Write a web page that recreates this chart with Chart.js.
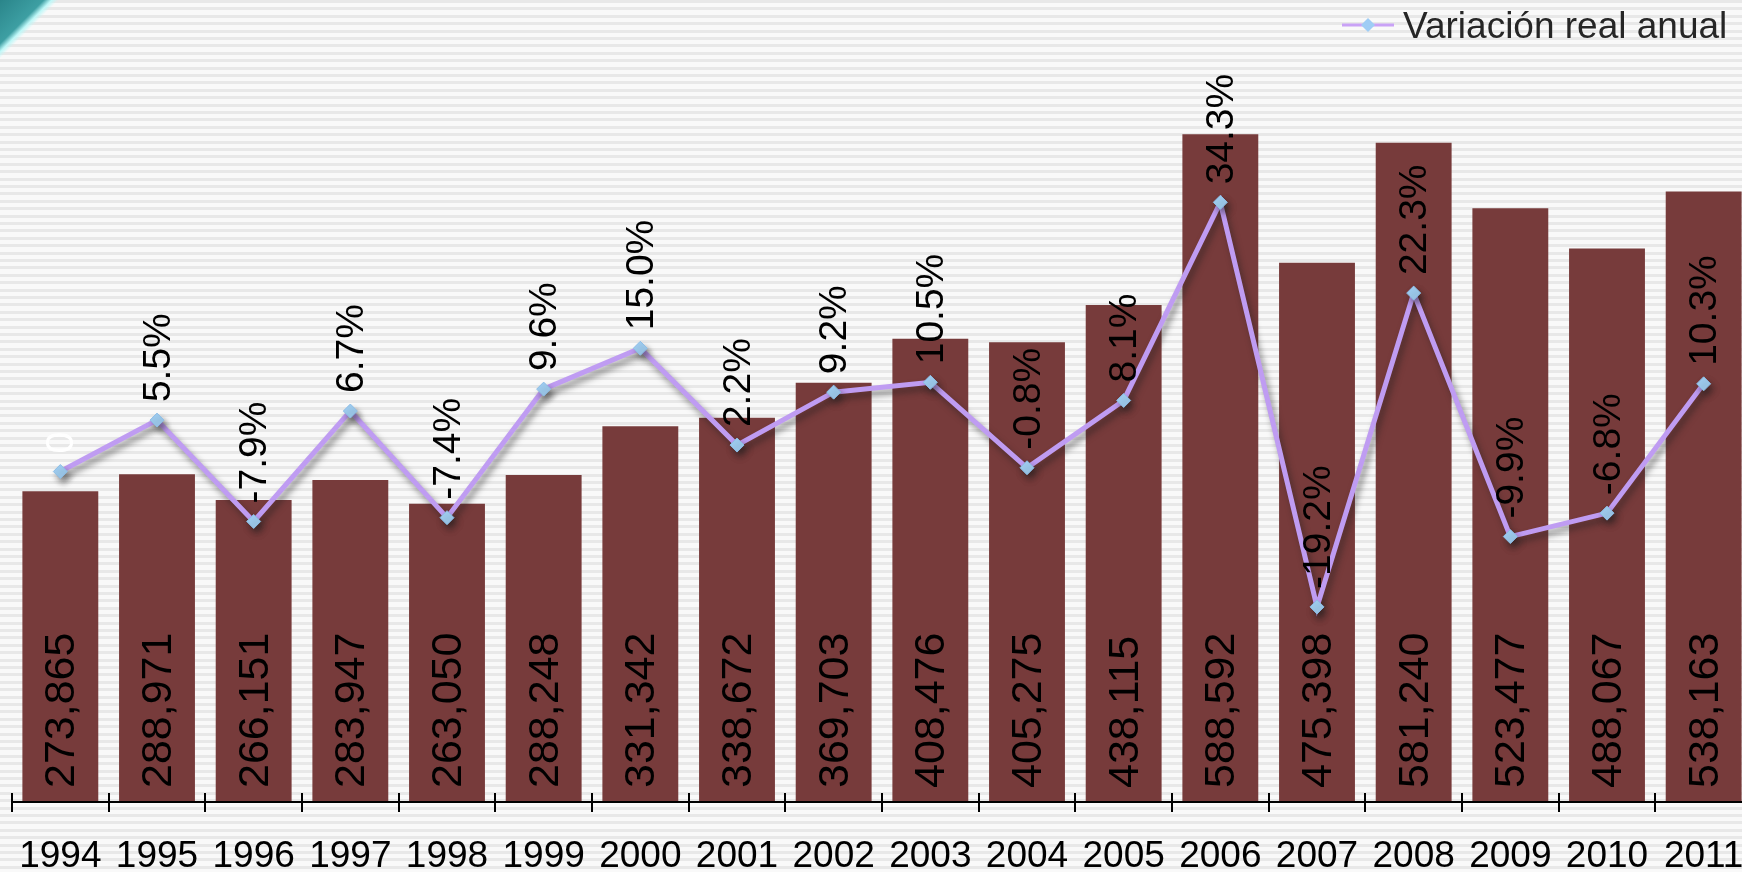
<!DOCTYPE html>
<html lang="es">
<head>
<meta charset="utf-8">
<title>Variación real anual</title>
<script src="https://cdn.jsdelivr.net/npm/chart.js@4.4.1/dist/chart.umd.min.js"></script>
<style>
    html, body { margin: 0; padding: 0; overflow: hidden; }
    body {
        position: relative;
        width: 1742px;
        height: 872px;
        background: repeating-linear-gradient(to bottom, #e8e8e8 0px, #e8e8e8 3px, #f9f9f9 3px, #f9f9f9 7.4px);
    }
    .corner {
        position: absolute; left: 0; top: 0; width: 115px; height: 115px;
        background: linear-gradient(135deg, #2a858a 0%, #3d9fa3 19%, #bff8f8 22.5%, rgba(255,255,255,0) 25.5%);
    }
    .wrap { position: absolute; left: 0; top: 0; width: 1760px; height: 872px; }
</style>
</head>
<body>
<div class="corner"></div>
<div class="wrap"><canvas id="chart" width="1760" height="872"></canvas></div>
<script>
const years = ['1994', '1995', '1996', '1997', '1998', '1999', '2000', '2001', '2002',
    '2003', '2004', '2005', '2006', '2007', '2008', '2009', '2010', '2011'];
const totals = [273865, 288971, 266151, 283947, 263050, 288248, 331342, 338672, 369703,
    408476, 405275, 438115, 588592, 475398, 581240, 523477, 488067, 538163];
// where the points sit on the picture (%)
const variation = [-1.3, 5.5, -7.9, 6.7, -7.4, 9.6, 15.0, 2.2, 9.2,
    10.5, -0.8, 8.1, 34.3, -19.2, 22.3, -9.9, -6.8, 10.3];
const variationLabels = ['0', '5.5%', '-7.9%', '6.7%', '-7.4%', '9.6%', '15.0%', '2.2%', '9.2%',
    '10.5%', '-0.8%', '8.1%', '34.3%', '-19.2%', '22.3%', '-9.9%', '-6.8%', '10.3%'];

const FONT = "'Liberation Sans', Arial, sans-serif";
const ctx = document.getElementById('chart').getContext('2d');

const fmt = (n) => n.toLocaleString('en-US');

// Rotated text helper
const vText = (c, text, x, y, size, color) => {
    c.save();
    c.translate(x, y);
    c.rotate(-Math.PI / 2);
    c.font = `${size}px ${FONT}`;
    c.fillStyle = color;
    c.textAlign = 'left';
    c.textBaseline = 'middle';
    c.fillText(text, 0, 0);
    c.restore();
};

// Drop shadow under the line
const lineShadow = {
    id: 'lineShadow',
    beforeDatasetDraw(chart, args) {
        if (args.meta.type !== 'line') return;
        const c = chart.ctx;
        c.save();
        c.shadowColor = 'rgba(30,30,30,0.5)';
        c.shadowBlur = 6;
        c.shadowOffsetX = 3;
        c.shadowOffsetY = 5;
    },
    afterDatasetDraw(chart, args) {
        if (args.meta.type !== 'line') return;
        chart.ctx.restore();
    }
};

// Axis line with ticks crossing it
const axisLine = {
    id: 'axisLine',
    afterDatasetsDraw(chart) {
        const c = chart.ctx;
        const x = chart.scales.x;
        const { left, right, bottom } = chart.chartArea;
        c.save();
        c.strokeStyle = '#000';
        c.lineWidth = 2;
        c.beginPath();
        c.moveTo(left, bottom);
        c.lineTo(right, bottom);
        const step = x.getPixelForValue(1) - x.getPixelForValue(0);
        for (let i = 0; i <= years.length; i++) {
            const px = Math.round(x.getPixelForValue(i) - step / 2);
            c.moveTo(px, bottom - 9);
            c.lineTo(px, bottom + 10);
        }
        c.stroke();
        c.restore();
    }
};

// Value labels and legend
const labels = {
    id: 'labels',
    afterDraw(chart) {
        const c = chart.ctx;
        const bars = chart.getDatasetMeta(0).data;
        bars.forEach((bar, i) => {
            vText(c, fmt(totals[i]), bar.x + 2, chart.chartArea.bottom - 14, 43, '#000');
        });
        const pts = chart.getDatasetMeta(1).data;
        pts.forEach((pt, i) => {
            vText(c, variationLabels[i], pt.x + 2, pt.y - 18, 39, i === 0 ? '#fff' : '#000');
        });

        // legend
        c.save();
        c.strokeStyle = '#c9a2f6';
        c.lineWidth = 3;
        c.beginPath();
        c.moveTo(1342, 25);
        c.lineTo(1394, 25);
        c.stroke();
        c.fillStyle = '#9fcdf5';
        c.beginPath();
        c.moveTo(1368, 18);
        c.lineTo(1375, 25);
        c.lineTo(1368, 32);
        c.lineTo(1361, 25);
        c.closePath();
        c.fill();
        c.font = `37px ${FONT}`;
        c.fillStyle = '#262626';
        c.textAlign = 'left';
        c.textBaseline = 'alphabetic';
        c.fillText('Variación real anual', 1403, 38);
        c.restore();
    }
};

const chart = new Chart(ctx, {
    type: 'bar',
    data: {
        labels: years,
        datasets: [{
            type: 'bar',
            label: 'Total',
            data: totals,
            backgroundColor: '#773b3b',
            categoryPercentage: 1,
            barPercentage: 0.785,
            yAxisID: 'y',
            order: 2
        }, {
            type: 'line',
            label: 'Variación real anual',
            data: variation,
            borderColor: '#bf9cf2',
            borderWidth: 5,
            pointStyle: 'rectRot',
            pointRadius: 7,
            pointBackgroundColor: '#9fcdf0',
            pointBorderColor: '#8cbde6',
            pointBorderWidth: 1,
            tension: 0,
            yAxisID: 'y2',
            order: 1
        }]
    },
    options: {
        responsive: false,
        animation: false,
        devicePixelRatio: 1,
        events: [],
        layout: { padding: { left: 12, right: 5.6, top: 5, bottom: 0 } },
        plugins: {
            legend: { display: false },
            tooltip: { enabled: false }
        },
        scales: {
            x: {
                offset: true,
                grid: { display: false, drawTicks: true, tickLength: 33 },
                border: { display: false },
                ticks: {
                    color: '#000',
                    font: { family: FONT, size: 37 },
                    padding: 0,
                    maxRotation: 0,
                    autoSkip: false
                },
                afterFit: (scale) => { scale.height = 70; }
            },
            y: { display: false, min: 0, max: 700000 },
            y2: { display: false, min: -45, max: 60 }
        }
    },
    plugins: [lineShadow, axisLine, labels]
});
</script>
</body>
</html>
